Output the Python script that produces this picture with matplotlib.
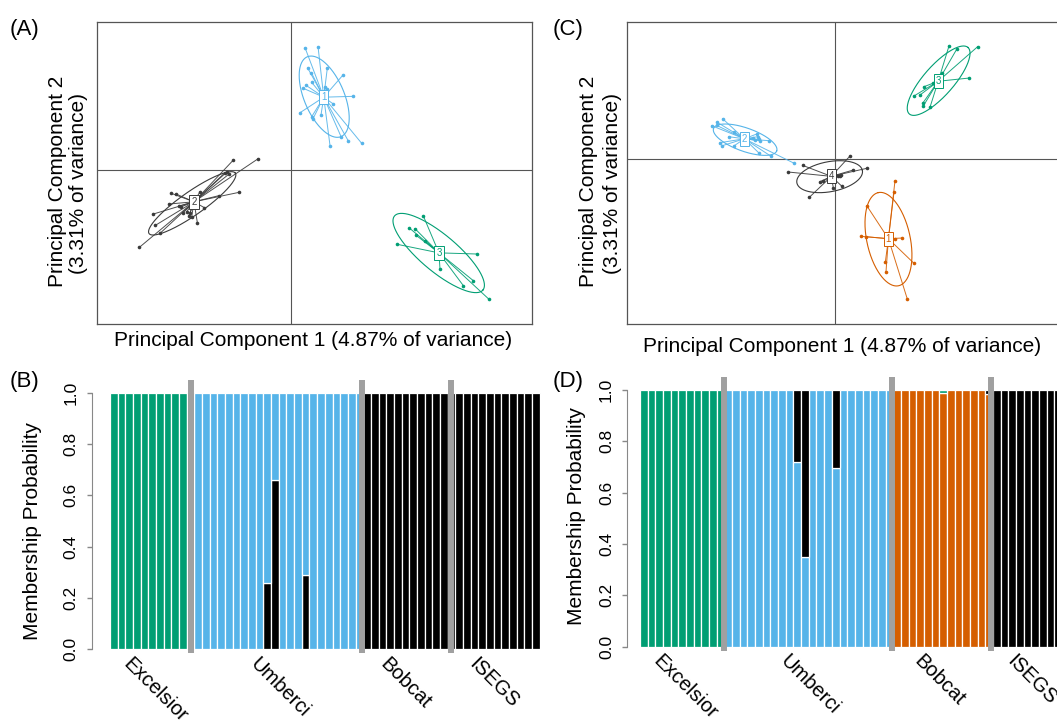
import numpy as np
import matplotlib.pyplot as plt

plt.rcParams['font.family'] = ['Liberation Sans', 'DejaVu Sans']

W, H = 1057, 720

blue = '#56B4E9'
green = '#009E73'
orange = '#D55E00'
dark = '#3a3a3a'
black = '#000000'

# PCA scores, one list per cluster
a1_x = [0.41, 0.80, 0.49, 0.60, 1.08, 1.54, 0.44, 0.36, 0.61, 1.01, 1.06, 1.84, 1.26, 0.26, 0.89, 0.61, 0.65, 1.50, 1.71, 1.16, 2.11]
a1_y = [3.68, 3.71, 3.07, 2.93, 3.08, 2.85, 2.55, 2.46, 2.64, 2.49, 2.45, 2.22, 1.99, 1.73, 1.67, 1.61, 1.55, 0.99, 0.88, 0.74, 0.81]
a2_x = [-1.74, -1.01, -1.94, -1.88, -1.99, -1.57, -2.18, -2.74, -2.61, -2.82, -2.99, -3.04, -3.08, -3.14, -3.24, -3.37, -3.32, -3.46, -3.60, -3.67, -4.14, -4.08, -3.94, -4.56]
a2_y = [0.31, 0.34, -0.05, -0.12, -0.07, -0.66, -0.76, -0.64, -1.12, -1.57, -1.39, -1.29, -1.37, -1.24, -1.27, -1.07, -1.10, -0.71, -0.69, -1.01, -1.31, -1.65, -1.89, -2.31]
a3_x = [3.96, 3.54, 3.71, 3.73, 4.01, 3.18, 5.56, 4.46, 5.16, 5.46, 5.92]
a3_y = [-1.37, -1.73, -1.75, -1.94, -2.11, -2.22, -2.51, -2.97, -3.46, -3.31, -3.86]

c1_x = [1.81, 1.78, 0.97, 0.80, 0.93, 1.82, 2.02, 1.52, 1.54, 2.38, 2.18]
c1_y = [-0.65, -0.99, -1.40, -2.31, -2.32, -2.38, -2.36, -3.09, -3.38, -3.12, -4.19]
c2_x = [-3.36, -3.52, -3.69, -3.54, -3.02, -3.18, -3.44, -3.37, -3.01, -2.34, -2.31, -2.26, -2.24, -1.97, -2.26, -1.92, -1.21, -2.44, -2.39]
c2_y = [1.22, 1.11, 1.01, 1.02, 0.83, 0.68, 0.50, 0.41, 0.41, 0.76, 0.68, 0.60, 0.56, 0.56, 0.18, 0.10, -0.12, 0.63, 0.58]
c3_x = [3.43, 3.66, 4.29, 4.04, 3.21, 2.68, 2.38, 2.56, 2.64, 2.66, 2.86, 2.96, 3.01]
c3_y = [3.40, 3.30, 3.38, 2.44, 2.58, 2.18, 1.90, 1.93, 1.68, 1.60, 1.56, 2.28, 2.23]
c4_x = [-0.96, -1.39, -0.76, -0.44, -0.34, -0.04, 0.21, 0.16, 0.56, 0.96, 0.46, 0.18, 0.11]
c4_y = [-0.18, -0.38, -1.14, -0.67, -0.65, -0.85, -0.80, -0.49, -0.32, -0.27, 0.10, -0.48, -0.50]

# ellipses: centre x, centre y, semi-major, semi-minor, angle (deg)
a1_ell = [0.985, 2.21, 1.30, 0.60, -67]
a2_ell = [-2.975, -0.99, 1.58, 0.35, 35]
a3_ell = [4.42, -2.48, 1.73, 0.55, -40]
c1_ell = [1.615, -2.395, 1.43, 0.65, 102.3]
c2_ell = [-2.685, 0.59, 1.005, 0.35, -19.5]
c3_ell = [3.12, 2.36, 1.33, 0.45, 48.6]
c4_ell = [-0.15, -0.52, 1.00, 0.45, 10.7]

pc1_label = 'Principal Component 1 (4.87% of variance)'
pc2_label = ['Principal Component 2', '(3.31% of variance)']

# membership probabilities
pops = ['Excelsior', 'Umberci', 'Bobcat', 'ISEGS']
b_sizes = [11, 22, 12, 11]
b_umb_black = [0, 0, 0, 0, 0, 0, 0, 0, 0, 0.26, 0.66, 0, 0, 0, 0.29, 0, 0, 0, 0, 0, 0, 0]
b_black = [0.0] * 11 + b_umb_black + [1.0] * 12 + [1.0] * 11
b_blue = [0.0] * 11 + [1 - v for v in b_umb_black] + [0.0] * 23
b_green = [1.0] * 11 + [0.0] * 45
b_seps = [10.5, 32.8, 44.5]

d_sizes = [11, 22, 13, 11]
d_umb_blue = [1, 1, 1, 1, 1, 1, 1, 1, 1, 0.72, 0.35, 1, 1, 1, 0.695, 1, 1, 1, 1, 1, 1, 1]
d_bob_orange = [1, 1, 1, 1, 1, 1, 0.99, 1, 1, 1, 1, 1, 0.985]
d_bob_green = [0, 0, 0, 0, 0, 0, 0.01, 0, 0, 0, 0, 0, 0]
d_orange = [0.0] * 11 + [0.0] * 22 + d_bob_orange + [0.0] * 11
d_blue = [0.0] * 11 + d_umb_blue + [0.0] * 13 + [0.0] * 11
d_green = [1.0] * 11 + [0.0] * 22 + d_bob_green + [0.0] * 11
d_black = [0.0] * 11 + [1 - v for v in d_umb_blue] + [1 - o - g for o, g in zip(d_bob_orange, d_bob_green)] + [1.0] * 11
d_seps = [10.9, 32.9, 45.7]


def box(l, t, r, b):
    return [l / W, 1 - b / H, (r - l) / W, (b - t) / H]


def ftext(x, y, s, **kw):
    fig.text(x / W, 1 - y / H, s, ha='center', va='center', **kw)


def pca_axes(rect, xlim, ylim):
    ax = fig.add_axes(rect)
    ax.set_xlim(xlim)
    ax.set_ylim(ylim)
    ax.set_xticks([])
    ax.set_yticks([])
    for s in ax.spines.values():
        s.set_color('#555555')
        s.set_linewidth(0.9)
    ax.axhline(0, color='#555555', lw=0.8, zorder=0)
    ax.axvline(0, color='#555555', lw=0.8, zorder=0)
    return ax


def s_class(ax, xs, ys, ell, lab, col):
    xs = np.array(xs)
    ys = np.array(ys)
    cx, cy = xs.mean(), ys.mean()
    for x, y in zip(xs, ys):
        ax.plot([cx, x], [cy, y], color=col, lw=0.7, alpha=0.9)
    ax.plot(xs, ys, 'o', color=col, ms=2.6, mew=0)
    ex, ey, a, b, ang = ell
    t = np.linspace(0, 2 * np.pi, 300)
    th = np.radians(ang)
    ax.plot(ex + a * np.cos(t) * np.cos(th) - b * np.sin(t) * np.sin(th),
            ey + a * np.cos(t) * np.sin(th) + b * np.sin(t) * np.cos(th),
            color=col, lw=0.8)
    ax.text(cx, cy, lab, ha='center', va='center', color=col, fontsize=7, zorder=5,
            bbox=dict(boxstyle='square,pad=0.2', fc='white', ec=col, lw=0.7))


def structure(ax, layers, cols, sizes, seps, xlim, fs, tfs):
    n = len(layers[0])
    x = np.arange(n) + 0.5
    bottom = np.zeros(n)
    for vals, c in zip(layers, cols):
        vals = np.array(vals, dtype=float)
        m = vals > 0
        ax.bar(x[m], vals[m], width=1, bottom=bottom[m], color=c,
               edgecolor='white', linewidth=0.9)
        bottom += vals
    ax.vlines(seps, -0.015, 1.05, color='#a0a0a0', lw=4.3, clip_on=False, zorder=5)
    ax.set_xlim(xlim)
    ax.set_ylim(0, 1)
    for s in ['top', 'right', 'bottom']:
        ax.spines[s].set_visible(False)
    ax.spines['left'].set_bounds(0, 1)
    ax.spines['left'].set_color('#888888')
    ax.set_xticks([])
    ax.set_yticks([0, 0.2, 0.4, 0.6, 0.8, 1.0])
    ax.set_yticklabels(['0.0', '0.2', '0.4', '0.6', '0.8', '1.0'])
    ax.tick_params(axis='y', length=3.5, width=1, color='#888888', pad=6,
                   labelsize=tfs, labelrotation=90)
    for lab in ax.get_yticklabels():
        lab.set_va('center')
    edges = np.concatenate([[0], np.cumsum(sizes)])
    centres = (edges[:-1] + edges[1:]) / 2
    for cx, name in zip(centres, pops):
        ax.text(cx - 4.2, -0.02, name, rotation=-45, ha='left', va='top',
                fontsize=fs, clip_on=False)


fig = plt.figure(figsize=(W / 100, H / 100), dpi=100)

# (A)
ax_a = pca_axes(box(96.7, 21.7, 531.7, 324), (-5.84, 7.21), (-4.61, 4.46))
s_class(ax_a, a1_x, a1_y, a1_ell, '1', blue)
s_class(ax_a, a2_x, a2_y, a2_ell, '2', dark)
s_class(ax_a, a3_x, a3_y, a3_ell, '3', green)

# (C)
ax_c = pca_axes(box(627.3, 21.7, 1062.3, 324), (-6.22, 6.83), (-4.94, 4.13))
s_class(ax_c, c1_x, c1_y, c1_ell, '1', orange)
s_class(ax_c, c2_x, c2_y, c2_ell, '2', blue)
s_class(ax_c, c3_x, c3_y, c3_ell, '3', green)
s_class(ax_c, c4_x, c4_y, c4_ell, '4', dark)

# (B)
ax_b = fig.add_axes(box(92, 392.5, 545, 649.3))
structure(ax_b, [b_black, b_blue, b_green], [black, blue, green],
          b_sizes, b_seps, (-2.35, 56.7), 14.5, 12.5)

# (D)
ax_d = fig.add_axes(box(627.3, 390, 1085, 646.7))
structure(ax_d, [d_orange, d_blue, d_green, d_black], [orange, blue, green, black],
          d_sizes, d_seps, (-1.66, 58.0), 14.5, 12.5)

# axis titles and panel letters
ftext(313, 341, pc1_label, fontsize=15)
ftext(842.5, 346, pc1_label, fontsize=15)
ftext(57.5, 181, pc2_label[0], fontsize=15, rotation=90)
ftext(79, 183, pc2_label[1], fontsize=15, rotation=90)
ftext(589, 181, pc2_label[0], fontsize=15, rotation=90)
ftext(612.5, 183, pc2_label[1], fontsize=15, rotation=90)
ftext(33, 531, 'Membership Probability', fontsize=15, rotation=90)
ftext(576.7, 516, 'Membership Probability', fontsize=15, rotation=90)

for x, y, s in [(10, 30, '(A)'), (10, 381, '(B)'), (553, 30, '(C)'), (553, 381, '(D)')]:
    fig.text(x / W, 1 - y / H, s, ha='left', va='center', fontsize=16)

fig.savefig('out.png', dpi=100)
